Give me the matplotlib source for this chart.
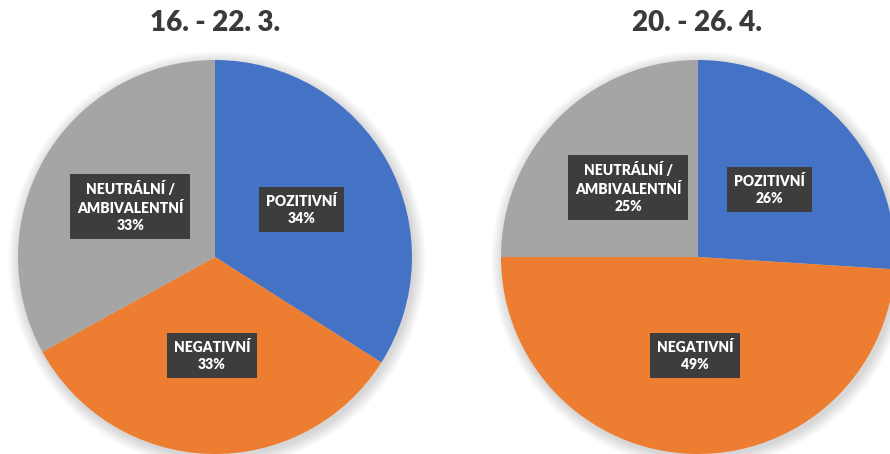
import numpy as np
import matplotlib.pyplot as plt
from matplotlib.patches import Circle

# Data
categories = ['POZITIVNÍ', 'NEGATIVNÍ', 'NEUTRÁLNÍ /\nAMBIVALENTNÍ']
titles = ['16. - 22. 3.', '20. - 26. 4.']
week1 = [34, 33, 33]
week2 = [26, 49, 25]

colors = ['#4472C4', '#ED7D31', '#A5A5A5']

W, H = 890, 454
plt.rcParams['font.family'] = ['Lato', 'DejaVu Sans']

fig = plt.figure(figsize=(W / 100, H / 100), dpi=100)
ax = fig.add_axes([0, 0, 1, 1])

# pie centres / radius in pixels (y measured from top)
centres = [(215, 257), (698, 257)]
radius = 197
title_x = [215, 697]

for vals, title, (cx, cy), tx in zip([week1, week2], titles, centres, title_x):
    c = (cx, H - cy)
    # soft shadow
    for k in range(8):
        ax.add_patch(Circle((c[0] + 2, c[1] - 3), radius + 1 + k * 1.5,
                            facecolor='#000000', alpha=0.018, edgecolor='none', zorder=0))
    labels = [f'{cat}\n{v}%' for cat, v in zip(categories, vals)]
    ax.pie(vals, labels=labels, colors=colors, startangle=90, counterclock=False,
           center=c, radius=radius, labeldistance=0.5, frame=True,
           wedgeprops=dict(linewidth=0, zorder=1),
           textprops=dict(color='white', fontsize=10, fontweight='heavy',
                          ha='center', va='center', multialignment='center',
                          linespacing=1.4,
                          bbox=dict(boxstyle='square,pad=0.5', facecolor='#3d3d3d',
                                    edgecolor='none')))
    ax.text(tx, H - 23, title, ha='center', va='center', fontsize=20,
            fontweight='heavy', color='#3a3a3a')

ax.set_xlim(0, W)
ax.set_ylim(0, H)
ax.set_aspect('equal')
ax.axis('off')

fig.savefig('out.png', dpi=100)
